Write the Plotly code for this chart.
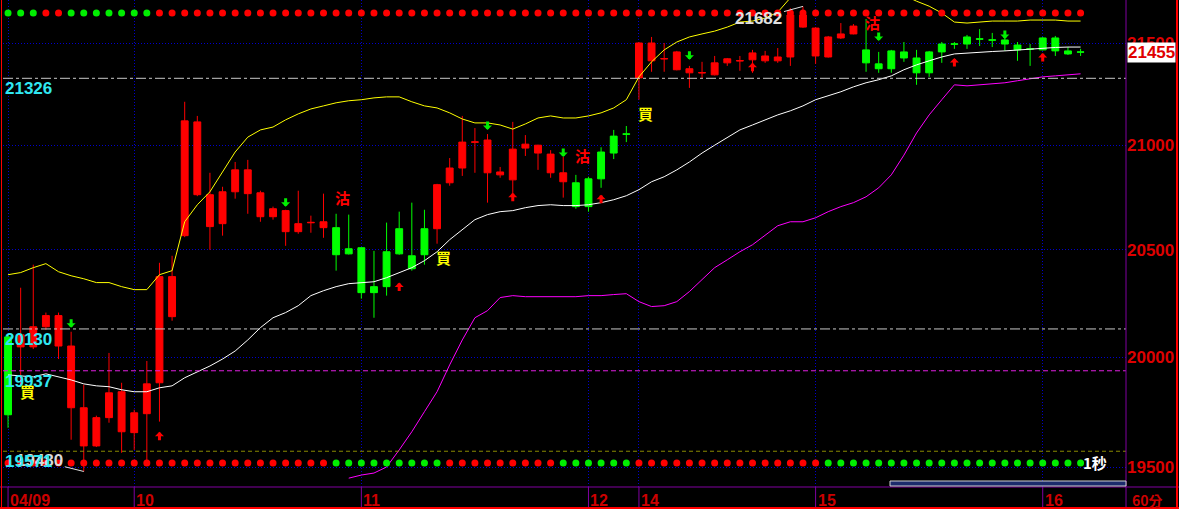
import math
import plotly.graph_objects as go

# ---------------- data (60-minute bars) ----------------
DAY_START = [0, 10, 28, 46, 50, 64, 82]
DAY_LABELS = ["04/09", "10", "11", "12", "14", "15", "16"]

OPEN = [20093, 20047, 20047, 20140, 20051, 19768, 19595, 19595, 19723, 19659,
        19655, 19741, 19882, 20187, 20567, 20762, 20610, 20624, 20776, 20767,
        20657, 20657, 20586, 20586, 20628, 20605, 20605, 20505, 20510, 20327,
        20491, 20600, 20472, 20600, 20600, 20819, 20890, 21014, 20867, 20857,
        20833, 20986, 20962, 20867, 20824, 20819, 20838, 20967, 21044, 21055,
        21328, 21412, 21421, 21368, 21353, 21352, 21343, 21402, 21411, 21417,
        21412, 21412, 21431, 21579, 21436, 21431, 21525, 21545, 21466, 21397,
        21461, 21456, 21426, 21456, 21495, 21496, 21530, 21521, 21516, 21515,
        21490, 21472, 21525, 21525, 21461, 21456]
HIGH = [20103, 20322, 20430, 20206, 20206, 20117, 19873, 19732, 20019, 19882,
        19759, 19982, 20439, 20472, 21211, 21142, 20867, 20800, 20919, 20929,
        20781, 20705, 20690, 20781, 20662, 20767, 20671, 20667, 20512, 20495,
        20629, 20681, 20724, 20690, 20814, 20938, 21142, 21083, 21054, 20895,
        21113, 21049, 21002, 20976, 20943, 20857, 20848, 20990, 21074, 21093,
        21505, 21530, 21500, 21461, 21387, 21407, 21436, 21426, 21436, 21466,
        21461, 21475, 21673, 21682, 21578, 21535, 21599, 21594, 21619, 21456,
        21466, 21505, 21466, 21461, 21505, 21505, 21540, 21569, 21550, 21530,
        21505, 21495, 21530, 21535, 21480, 21471]
LOW = [19677, 19873, 20037, 20126, 19991, 19623, 19480, 19590, 19700, 19564,
       19577, 19523, 19705, 20168, 20560, 20755, 20500, 20567, 20743, 20671,
       20633, 20643, 20519, 20576, 20581, 20557, 20402, 20478, 20271, 20182,
       20285, 20477, 20402, 20430, 20529, 20805, 20852, 20867, 20724, 20843,
       20743, 20948, 20881, 20843, 20748, 20695, 20681, 20795, 20933, 21015,
       21221, 21358, 21358, 21365, 21279, 21328, 21340, 21387, 21363, 21353,
       21402, 21402, 21387, 21575, 21397, 21428, 21520, 21543, 21358, 21353,
       21353, 21407, 21294, 21333, 21402, 21471, 21471, 21485, 21480, 21461,
       21412, 21387, 21464, 21436, 21441, 21436]
CLOSE = [19736, 20103, 20140, 20192, 20192, 20051, 19768, 19723, 19836, 19841,
         19745, 19877, 20374, 20374, 21118, 21113, 20762, 20776, 20881, 20881,
         20771, 20695, 20686, 20624, 20630, 20633, 20477, 20481, 20299, 20299,
         20327, 20481, 20411, 20477, 20810, 20890, 21015, 21016, 21025, 20871,
         20981, 21005, 21000, 20957, 20867, 20705, 20705, 20838, 20962, 21053,
         21500, 21500, 21423, 21456, 21373, 21354, 21402, 21422, 21413, 21451,
         21436, 21431, 21639, 21639, 21574, 21530, 21545, 21584, 21402, 21373,
         21373, 21426, 21353, 21353, 21456, 21494, 21495, 21519, 21514, 21495,
         21466, 21470, 21466, 21461, 21446, 21455]

BB_UPPER = [20383, 20393, 20416, 20435, 20397, 20378, 20364, 20346, 20346, 20327,
            20313, 20313, 20383, 20402, 20633, 20714, 20776, 20871, 20967, 21039,
            21074, 21088, 21123, 21152, 21176, 21191, 21206, 21216, 21221, 21230,
            21235, 21235, 21211, 21191, 21181, 21157, 21127, 21108, 21108, 21098,
            21078, 21103, 21132, 21142, 21132, 21132, 21142, 21157, 21181, 21221,
            21333, 21407, 21466, 21505, 21530, 21545, 21559, 21579, 21604, 21609,
            21624, 21653, 21725, 21765, 21800, 21820, 21830, 21830, 21815, 21790,
            21765, 21738, 21708, 21683, 21649, 21604, 21599, 21604, 21609, 21609,
            21609, 21614, 21614, 21614, 21609, 21609]
BB_MID = [19918, 19914, 19909, 19923, 19909, 19895, 19877, 19868, 19864, 19850,
          19841, 19841, 19859, 19868, 19905, 19932, 19959, 19991, 20028, 20079,
          20136, 20182, 20206, 20238, 20285, 20308, 20327, 20341, 20346, 20350,
          20369, 20393, 20416, 20449, 20491, 20548, 20595, 20643, 20667, 20681,
          20686, 20700, 20710, 20714, 20710, 20710, 20714, 20724, 20738, 20757,
          20786, 20824, 20848, 20881, 20919, 20962, 21000, 21039, 21074, 21098,
          21123, 21147, 21167, 21191, 21221, 21240, 21260, 21284, 21304, 21319,
          21338, 21368, 21392, 21412, 21431, 21446, 21451, 21456, 21458, 21461,
          21466, 21471, 21475, 21478, 21480, 21480]
BB_LOWER = [None] * 27 + [
    19450, 19464, 19473, 19500, 19577, 19659, 19750, 19841, 19964, 20079,
    20182, 20215, 20276, 20285, 20280, 20280, 20280, 20280, 20280, 20285,
    20285, 20290, 20294, 20257, 20234, 20238, 20257, 20304, 20360, 20416,
    20453, 20491, 20524, 20567, 20614, 20633, 20633, 20652, 20681, 20705,
    20724, 20752, 20795, 20857, 20952, 21059, 21147, 21221, 21294, 21289,
    21294, 21299, 21304, 21314, 21324, 21333, 21338, 21343, 21348]

TOP_SIGNAL = "G" * 3 + "R" * 2 + "G" * 7 + "R" * 74
BOTTOM_SIGNAL = "R" * 26 + "G" * 9 + "R" * 9 + "G" * 6 + "R" * 15 + "G" * 21

BUY_IDX, BUY_PX = [1, 34, 50], [19886, 20510, 21202]
SELL_IDX, SELL_PX = [26, 45, 68], [20705, 20905, 21554]
DOWN_IDX = [5, 22, 38, 44, 54, 69, 79]
DOWN_PX = [20136, 20705, 21074, 20943, 21417, 21510, 21520]
UP_IDX = [12, 31, 40, 47, 59, 75, 82]
UP_PX = [19659, 20346, 20771, 20762, 21402, 21426, 21451]

LEVELS = [21326, 20130, 19937, 19571]
LEVEL_COLORS = ["#c8c8c8", "#c8c8c8", "#e020e0", "#8a8a00"]
LEVEL_DASH = ["10px,3px,3px,3px", "10px,3px,3px,3px", "5px,3px", "4px,3px"]

HIGH_MARK = (63, 21682)
LOW_MARK = (6, 19480)
LAST_PRICE = 21455
YTICKS = [19500, 20000, 20500, 21000, 21500]
Y_MIN, Y_MAX = 19410.5, 21714

# ---------------- figure ----------------
N = len(OPEN)
X = list(range(N))
RED, GREEN = "#ff0000", "#00ff00"
DIGIT_FONT = "Liberation Sans"
CJK_FONT = "Noto Sans CJK TC"
TOP_ROW, BOTTOM_ROW = 1 - 13 / 487, 1 - 463 / 487

fig = go.Figure()

fig.add_trace(go.Scatter(x=X, y=[TOP_ROW] * N, yaxis="y2", mode="markers",
                         marker=dict(size=7, color=[RED if s == "R" else "#00ee00" for s in TOP_SIGNAL]),
                         hoverinfo="skip"))
fig.add_trace(go.Scatter(x=X, y=[BOTTOM_ROW] * N, yaxis="y2", mode="markers",
                         marker=dict(size=7, color=[RED if s == "R" else "#00ee00" for s in BOTTOM_SIGNAL]),
                         hoverinfo="skip"))

fig.add_trace(go.Candlestick(
    x=X, open=OPEN, high=HIGH, low=LOW, close=CLOSE,
    increasing=dict(line=dict(color=RED, width=1), fillcolor=RED),
    decreasing=dict(line=dict(color=GREEN, width=1), fillcolor=GREEN),
    whiskerwidth=0, hoverinfo="skip"))

fig.add_trace(go.Scatter(x=X, y=BB_UPPER, mode="lines", line=dict(color="#ffff00", width=1), hoverinfo="skip"))
fig.add_trace(go.Scatter(x=X, y=BB_MID, mode="lines", line=dict(color="#ffffff", width=1), hoverinfo="skip"))
fig.add_trace(go.Scatter(x=X, y=BB_LOWER, mode="lines", line=dict(color="#ff00ff", width=1), hoverinfo="skip"))

shapes = []
for lv, col, dash in zip(LEVELS, LEVEL_COLORS, LEVEL_DASH):
    shapes.append(dict(type="line", xref="paper", yref="y", x0=0, x1=1, y0=lv, y1=lv,
                       line=dict(color=col, width=1, dash=dash)))
PURPLE = "#8000a0"
PX = 1123.0
shapes.append(dict(type="line", xref="paper", yref="paper", x0=-3 / PX, x1=1176 / PX, y0=0, y1=0,
                   line=dict(color=PURPLE, width=1)))
shapes.append(dict(type="line", xref="paper", yref="paper", x0=1, x1=1, y0=-22 / 487, y1=1,
                   line=dict(color=PURPLE, width=1)))
for d in DAY_START:
    shapes.append(dict(type="line", xref="x", yref="paper", x0=d, x1=d, y0=0, y1=-21 / 487,
                       line=dict(color=PURPLE, width=1)))
# scrollbar
shapes.append(dict(type="rect", xref="paper", yref="paper", x0=887 / PX, x1=1.0, y0=1 / 487, y1=6 / 487,
                   fillcolor="#1c2c6c", line=dict(color="#d0d0d0", width=1)))
# window border
shapes.append(dict(type="line", xref="paper", yref="paper", x0=-1.5 / PX, x1=-1.5 / PX, y0=-22 / 487, y1=1,
                   line=dict(color=RED, width=1)))
shapes.append(dict(type="line", xref="paper", yref="paper", x0=1174 / PX, x1=1174 / PX, y0=-22 / 487, y1=1,
                   line=dict(color=RED, width=2)))
shapes.append(dict(type="line", xref="paper", yref="paper", x0=-3 / PX, x1=1176 / PX, y0=-21 / 487, y1=-21 / 487,
                   line=dict(color=RED, width=2)))

L = math.log10
ann = []
# high / low markers
ann.append(dict(x=HIGH_MARK[0], y=L(HIGH_MARK[1]), text=str(HIGH_MARK[1]), showarrow=True, arrowhead=0,
                arrowwidth=1, arrowcolor="#e0e0e0", ax=-44, ay=12,
                font=dict(family=DIGIT_FONT, size=17, color="#e0e0e0", weight="bold")))
ann.append(dict(x=LOW_MARK[0], y=L(LOW_MARK[1]), text=str(LOW_MARK[1]), showarrow=True, arrowhead=0,
                arrowwidth=1, arrowcolor="#e0e0e0", ax=-44, ay=-11,
                font=dict(family=DIGIT_FONT, size=17, color="#d8d8d8", weight="bold")))
# level labels
for lv in LEVELS:
    ann.append(dict(xref="paper", x=0, y=L(lv), text=str(lv), showarrow=False, xanchor="left",
                    yanchor="top", xshift=0, yshift=1,
                    font=dict(family=DIGIT_FONT, size=17, color="#30e8f2", weight="bold")))
# buy / sell labels
for i, p in zip(BUY_IDX, BUY_PX):
    ann.append(dict(x=i, y=L(p), text="買", showarrow=False, xanchor="left", yanchor="top", xshift=-3,
                    yshift=3, font=dict(family=CJK_FONT, size=15, color="#ffff00", weight="bold")))
for i, p in zip(SELL_IDX, SELL_PX):
    ann.append(dict(x=i, y=L(p), text="沽", showarrow=False, xanchor="left", yanchor="bottom", xshift=-3,
                    yshift=-3, font=dict(family=CJK_FONT, size=15, color=RED, weight="bold")))
# arrows (stem + head)
for i, p in zip(DOWN_IDX, DOWN_PX):
    ann.append(dict(x=i, y=L(p), text="", showarrow=True, arrowhead=1, arrowsize=0.5, arrowwidth=3,
                    arrowcolor="#00ee00", ax=0, ay=-10))
for i, p in zip(UP_IDX, UP_PX):
    ann.append(dict(x=i, y=L(p), text="", showarrow=True, arrowhead=1, arrowsize=0.5, arrowwidth=3,
                    arrowcolor=RED, ax=0, ay=10))
# day labels
for d, lab in zip(DAY_START, DAY_LABELS):
    ann.append(dict(x=d, xref="x", yref="paper", y=0, text=lab, showarrow=False, xanchor="left",
                    yanchor="middle", xshift=0, yshift=-13,
                    font=dict(family=DIGIT_FONT, size=16, color="#cc0000", weight="bold")))
ann.append(dict(xref="paper", yref="paper", x=1, y=0, text="60分", showarrow=False, xanchor="left",
                yanchor="middle", xshift=4, yshift=-13,
                font=dict(family=CJK_FONT, size=14, color="#cc0000", weight="bold")))
ann.append(dict(xref="paper", yref="paper", x=1078 / PX, y=25 / 487, text="1秒", showarrow=False,
                xanchor="left", yanchor="middle",
                font=dict(family=CJK_FONT, size=15, color="#ffffff", weight="bold")))
# last price tag
ann.append(dict(xref="paper", x=1, y=L(LAST_PRICE), text=str(LAST_PRICE), showarrow=False,
                xanchor="left", yanchor="middle", xshift=1, bgcolor="#ffffff", borderpad=0,
                font=dict(family=DIGIT_FONT, size=17, color="#e00000", weight="bold")))

fig.update_layout(
    width=1179, height=509,
    margin=dict(l=3, r=53, t=0, b=22),
    paper_bgcolor="#000000", plot_bgcolor="#000000",
    showlegend=False, boxgap=0.22,
    shapes=shapes, annotations=ann,
    xaxis=dict(range=[-0.4, 88.6], tickvals=DAY_START, showticklabels=False, ticks="",
               showgrid=True, gridcolor="#0000cc", griddash="1px,2px", gridwidth=1,
               zeroline=False, showline=False, rangeslider=dict(visible=False), fixedrange=True),
    yaxis=dict(type="log", range=[L(Y_MIN), L(Y_MAX)], side="right", tickvals=YTICKS,
               ticktext=[str(v) for v in YTICKS], ticks="",
               tickfont=dict(family=DIGIT_FONT, size=17, color="#dd0000", weight="bold"),
               showgrid=True, gridcolor="#0000cc", griddash="1px,2px", gridwidth=1,
               zeroline=False, showline=False, fixedrange=True),
    yaxis2=dict(overlaying="y", range=[0, 1], visible=False, fixedrange=True),
)

fig.write_html("out.html", config={"displayModeBar": False},
               post_script="document.body.style.margin='0px';document.body.style.overflow='hidden';")
